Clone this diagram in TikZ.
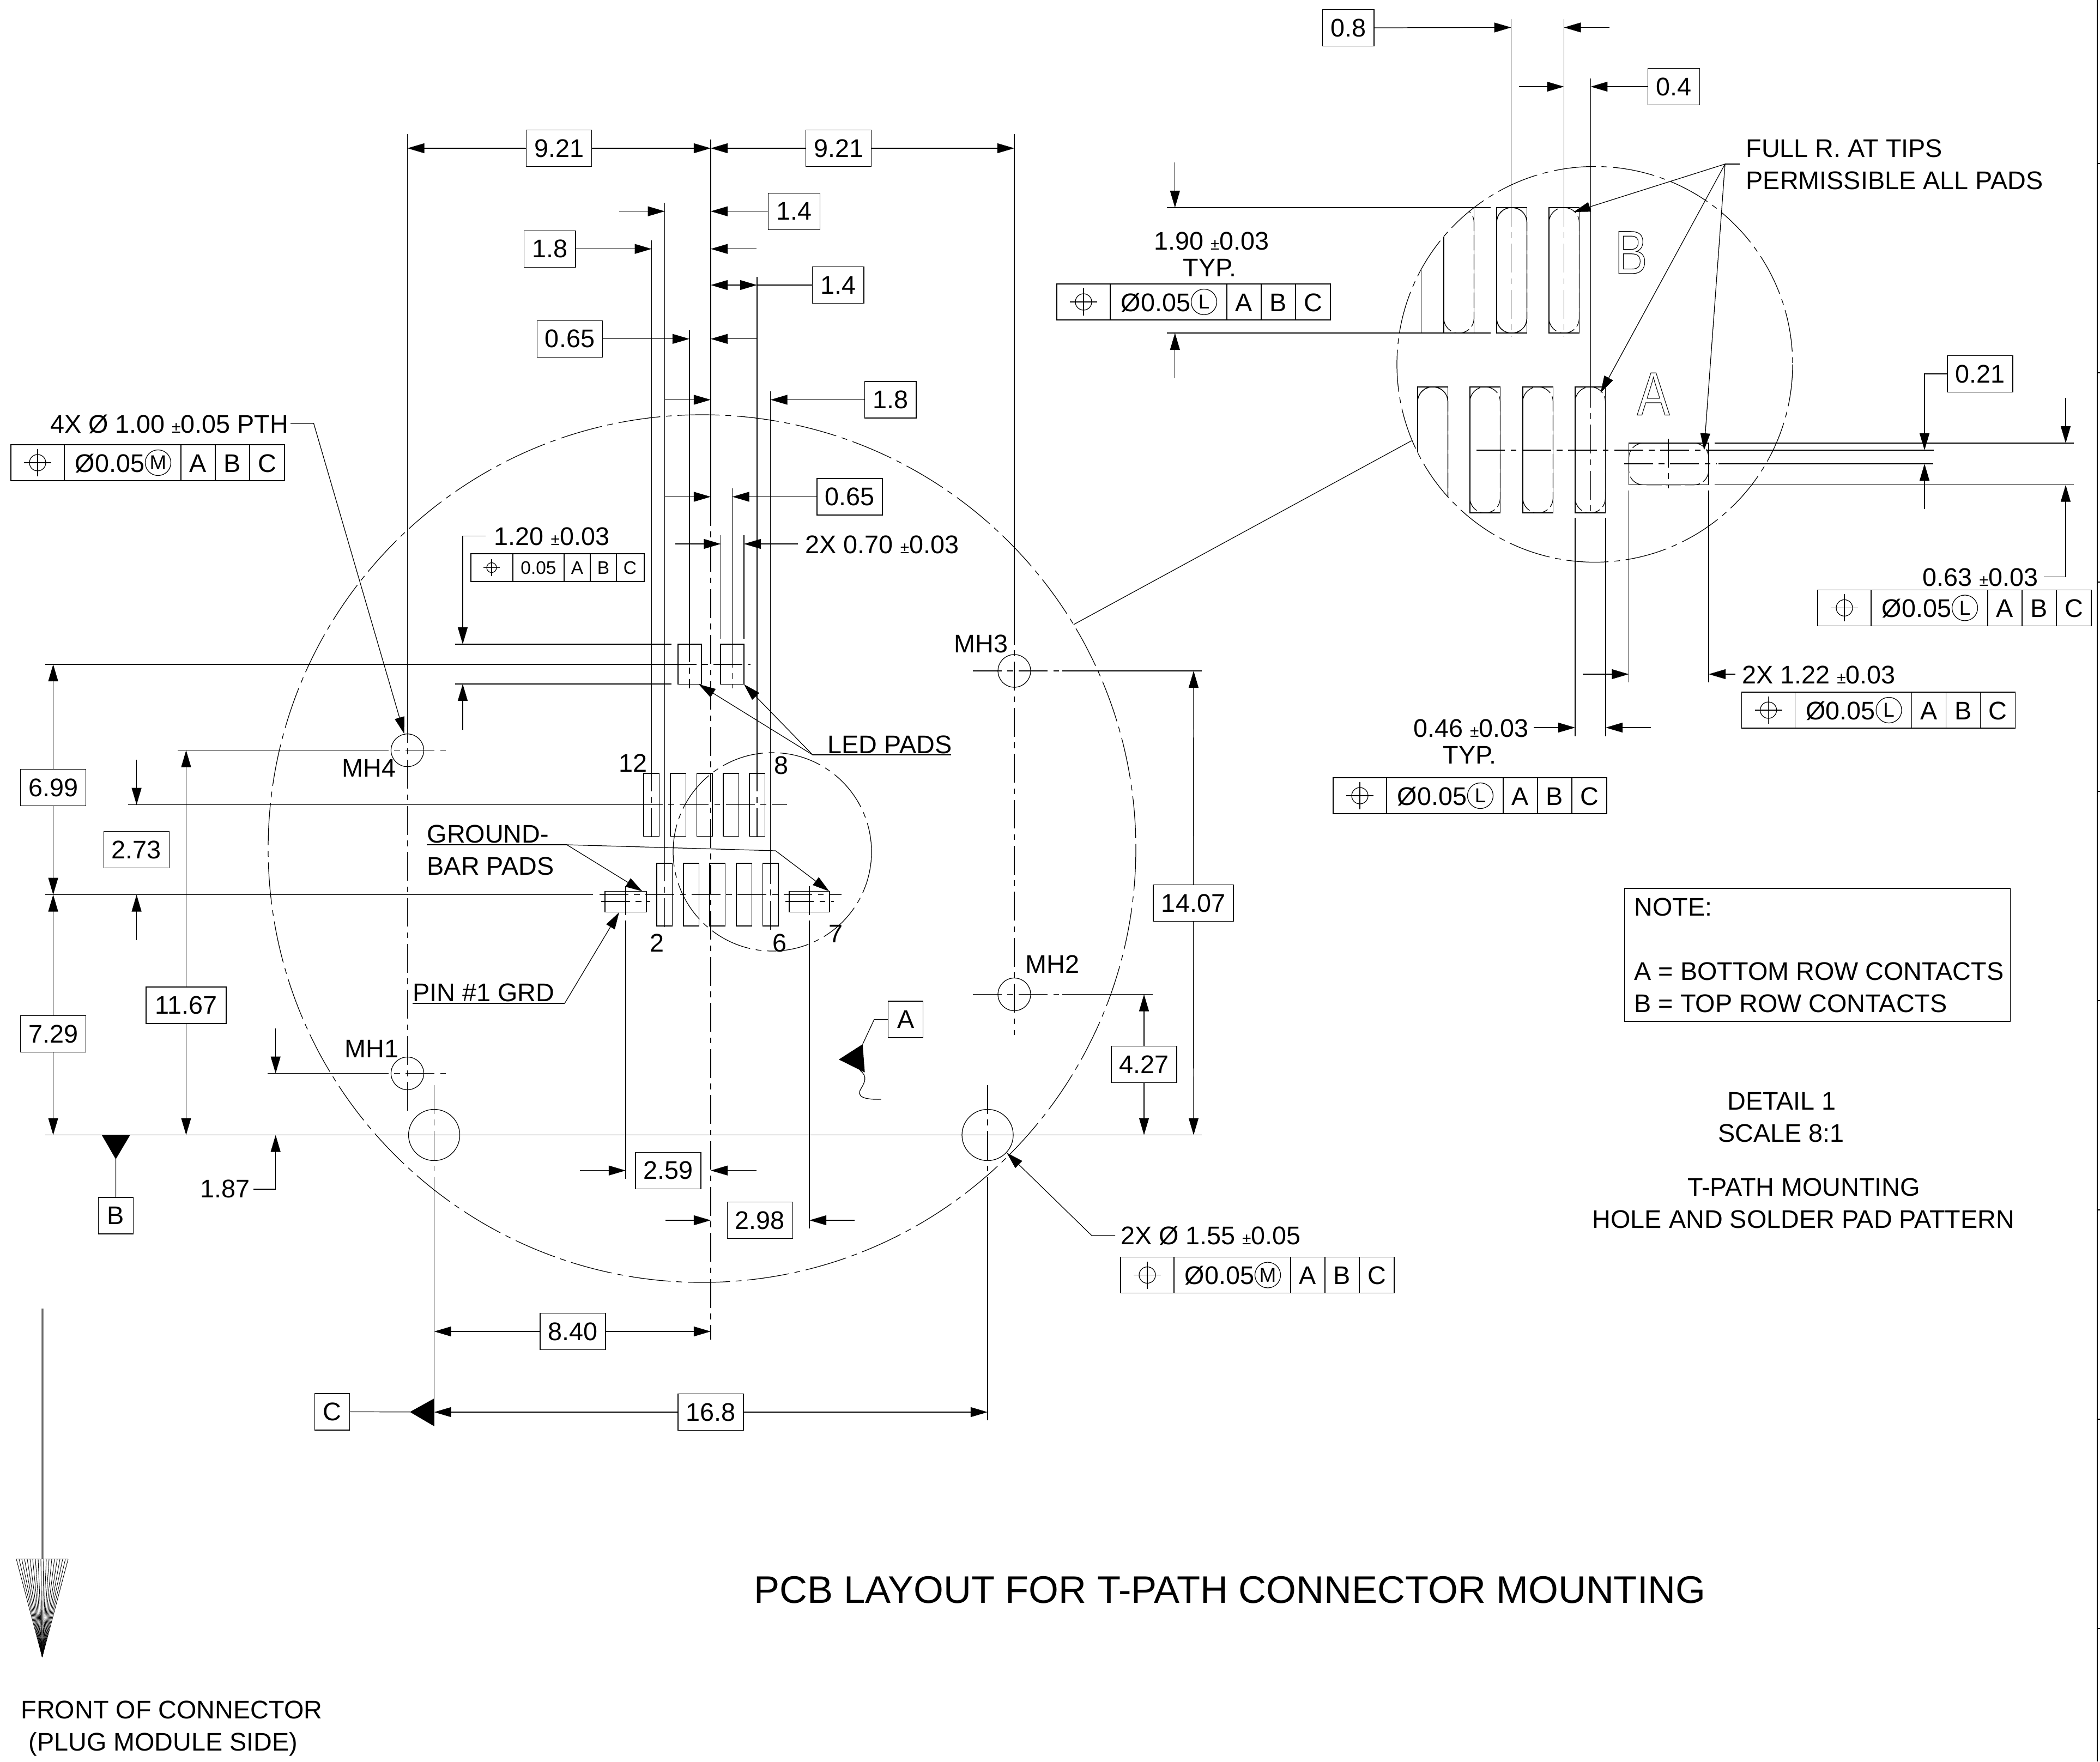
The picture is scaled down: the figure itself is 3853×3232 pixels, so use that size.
\documentclass[tikz,border=0pt]{standalone}
\usepackage{fontspec}
\setmainfont{Liberation Sans}
\usetikzlibrary{arrows.meta}

\newcommand{\pmsmall}{{\fontsize{8.5}{8.5}\selectfont ±}}
\newcommand{\hollow}[1]{\scalebox{0.8}[1]{\special{pdf:code 1 Tr 0.35 w}#1\special{pdf:code 0 Tr}}}

\newcommand{\posmark}[2]{
	\draw (#1,#2) circle [radius=15];
	\draw (#1-25,#2) -- (#1+25,#2);
	\draw (#1,#2-25) -- (#1,#2+25);
}

\newcommand{\fcfbox}[4]{
	\draw (#2,#3) rectangle (#2+502,#3+66);
	\foreach \cx in {98,312,375,438}
		\draw (#2+\cx,#3) -- (#2+\cx,#3+66);
	\posmark{#2+49}{#3+33}
	\node[txt] (#1v) at (#2+117,#3+50) {Ø0.05};
	\node[ring] (#1r) at (#2+270,#3+33) {#4};
	\node[txtc] (#1a) at (#2+343,#3+50) {A};
	\node[txtc] (#1b) at (#2+406,#3+50) {B};
	\node[txtc] (#1c) at (#2+470,#3+50) {C};
}

\begin{document}
\begin{tikzpicture}[x=0.01cm, y=-0.01cm, line width=0.35pt,
	font=\fontsize{13.3}{13.3}\selectfont,
	dim/.style={-{Triangle[length=0.31cm, width=0.18cm]}},
	dimb/.style={{Triangle[length=0.31cm, width=0.18cm]}-{Triangle[length=0.31cm, width=0.18cm]}},
	cl/.style={dash pattern=on 15pt off 3pt on 3pt off 3pt},
	clbig/.style={dash pattern=on 22pt off 3pt on 3pt off 3pt},
	phantom/.style={dash pattern=on 8pt off 2pt},
	dimbox/.style={draw, fill=white, inner sep=0pt, minimum width=1.2cm, minimum height=0.67cm},
	dimnar/.style={dimbox, minimum width=0.945cm},
	dimwid/.style={dimbox, minimum width=1.47cm},
	tagbox/.style={dimbox, minimum width=0.64cm},
	txt/.style={inner sep=0pt, anchor=base west},
	txtc/.style={inner sep=0pt, anchor=base},
	ring/.style={draw, circle, inner sep=0pt, minimum size=0.47cm, font=\fontsize{10.5}{10.5}\selectfont}]

	\useasboundingbox (0,0) rectangle (3853,3232);

	\coordinate (cl0) at (1304,256);
	\coordinate (cl1) at (1304,2458);
	\coordinate (big) at (1288,1557);
	\coordinate (small) at (1417,1563);
	\coordinate (det) at (2926,668.5);
	\coordinate (hole1) at (796.6,2082.5);
	\coordinate (hole2) at (1812,2082.5);
	\coordinate (mh1) at (747.5,1969.5);
	\coordinate (mh2) at (1861,1824.5);
	\coordinate (mh3) at (1861,1231);
	\coordinate (mh4) at (747.5,1376.7);

	\draw[clbig] (big) circle [radius=796];
	\draw[clbig] (small) circle [radius=182];
	\draw[clbig] (det) circle [radius=363];
	\draw (1969.8,1146) -- (2589.7,808.7);

	\draw (mh1) circle [radius=30];
	\draw (mh2) circle [radius=30];
	\draw (mh3) circle [radius=30];
	\draw (mh4) circle [radius=30];
	\draw (hole1) circle [radius=47];
	\draw (hole2) circle [radius=47];

	% pads
	\draw (1244,1182) rectangle (1287,1255.5);
	\draw (1322,1182) rectangle (1365,1255.5);
	\foreach \px in {1181,1230,1278.6,1327,1375}
		\draw (\px,1419) rectangle ++(28.5,115.5);
	\foreach \px in {1205,1254,1302,1351,1399.6}
		\draw (\px,1584) rectangle ++(28.5,115);
	\draw (1110,1635.4) rectangle (1186,1673.7);
	\draw (1448,1635.4) rectangle (1522,1673.7);

	% pads of the detail
	\begin{scope}
		\clip (det) circle [radius=363];
		\draw (2607.5,381) -- (2607.5,611);
		\foreach \px in {2649,2746,2842} {
			\draw (\px,381) rectangle ++(55.5,230);
			\draw[phantom, rounded corners=0.27cm] (\px,381) rectangle ++(55.5,230);
		}
		\draw[rounded corners=0.27cm] (2746,381) rectangle ++(55.5,230);
		\foreach \px in {2601,2697,2794,2890} {
			\draw (\px,710) rectangle ++(55.5,231);
			\draw[phantom, rounded corners=0.27cm] (\px,710) rectangle ++(55.5,231);
		}
		\draw[rounded corners=0.27cm] (2601,710) rectangle ++(55.5,231);
	\end{scope}
	\draw (2988.4,813) rectangle (3135,889.7);
	\draw[phantom, rounded corners=0.27cm] (2988.4,813) rectangle (3135,889.7);

	\node[txt, font=\fontsize{31.9}{31.9}\selectfont] (letb) at (2962,502) {\hollow{B}};
	\node[txt, font=\fontsize{31.9}{31.9}\selectfont] (leta) at (3003,761.5) {\hollow{A}};

	% vertical lines over the pads
	\draw (747.5,246) -- (747.5,1310);
	\draw[cl] (747.5,1310) -- (747.5,2045);
	\draw (1861,246) -- (1861,1130);
	\draw[cl] (1861,1130) -- (1861,1898.5);
	\draw (1195.6,441) -- (1195.6,1399);
	\draw[cl] (1195.6,1399) -- (1195.6,1540);
	\draw (1219.7,372) -- (1219.7,1564);
	\draw[cl] (1219.7,1564) -- (1219.7,1708);
	\draw (1265,606) -- (1265,1162);
	\draw[cl] (1265,1162) -- (1265,1263);
	\draw (cl0) -- (1304,912);
	\draw[cl] (1304,912) -- (cl1);
	\draw (1322.4,982) -- (1322.4,1172);
	\draw (1343.7,896) -- (1343.7,1172);
	\draw[cl] (1343.7,1172) -- (1343.7,1263);
	\draw (1365,982) -- (1365,1172);
	\draw (1389,508) -- (1389,1399);
	\draw[cl] (1389,1399) -- (1389,1540);
	\draw (1413.7,718) -- (1413.7,1569);
	\draw[cl] (1413.7,1569) -- (1413.7,1707);
	\draw[cl] (1148,1626) -- (1148,1693);
	\draw (1148,1693) -- (1148,2163);
	\draw[cl] (1485,1626) -- (1485,1693);
	\draw (1485,1693) -- (1485,2253.6);
	\draw[cl] (796.6,1991) -- (796.6,2173);
	\draw (796.6,2173) -- (796.6,2617);
	\draw[cl] (1812,1991) -- (1812,2185);
	\draw (1812,2185) -- (1812,2606);

	% horizontal lines
	\draw (835,1182) -- (1232,1182);
	\draw (835,1255) -- (1232,1255);
	\draw (83,1219) -- (1225,1219);
	\draw[cl] (1225,1219) -- (1377,1219);
	\draw (234.7,1476.6) -- (1163,1476.6);
	\draw[cl] (1163,1476.6) -- (1444,1476.6);
	\draw (83,1641.6) -- (1088,1641.6);
	\draw[cl] (1100,1641.6) -- (1544,1641.6);
	\draw[cl] (1103,1654) -- (1193,1654);
	\draw[cl] (1440.6,1654) -- (1530,1654);
	\draw (83,2082.5) -- (2205,2082.5);
	\draw (326,1376.7) -- (660,1376.7);
	\draw[cl] (660,1376.7) -- (824,1376.7);
	\draw (491,1969.5) -- (660,1969.5);
	\draw[cl] (660,1969.5) -- (824,1969.5);
	\draw[cl] (1785,1231) -- (1949,1231);
	\draw (1949,1231) -- (2205,1231);
	\draw[cl] (1785,1824.5) -- (1949,1824.5);
	\draw (1949,1824.5) -- (2114.5,1824.5);

	% lines of the detail
	\draw (2772.7,35) -- (2772.7,363);
	\draw[cl] (2772.7,363) -- (2772.7,618);
	\draw (2869.5,35) -- (2869.5,363);
	\draw[cl] (2869.5,363) -- (2869.5,618);
	\draw (2918.4,143.5) -- (2918.4,695);
	\draw[cl] (2918.4,695) -- (2918.4,947);
	\draw (2890,950) -- (2890,1351);
	\draw (2946,950) -- (2946,1351);
	\draw (2988.4,900) -- (2988.4,1252);
	\draw (3135,900) -- (3135,1252);
	\draw[cl] (3061,805) -- (3061,896);
	\draw (2141,381) -- (2735,381);
	\draw (2141,611) -- (2735,611);
	\draw[cl] (2708.6,826) -- (3140,826);
	\draw (3140,826) -- (3547.6,826);
	\draw[cl] (2980,851) -- (3150,851);
	\draw (3153.4,851) -- (3547.4,851);
	\draw (3145.7,813) -- (3805,813);
	\draw (3145.7,889.7) -- (3805,889.7);

	% boxed dimensions
	\node[dimbox] (d921l) at (1025.7,272) {9.21};
	\node[dimbox] (d921r) at (1538.5,272) {9.21};
	\node[dimnar] (d14a) at (1457,387.7) {1.4};
	\node[dimnar] (d18a) at (1008.7,456.7) {1.8};
	\node[dimnar] (d14b) at (1537.8,523) {1.4};
	\node[dimbox] (d065a) at (1045.5,621.8) {0.65};
	\node[dimnar] (d18b) at (1633.7,733.5) {1.8};
	\node[dimbox] (d065b) at (1559,911.5) {0.65};
	\node[dimbox] (d699) at (97.6,1445) {6.99};
	\node[dimbox] (d729) at (97.6,1897.3) {7.29};
	\node[dimbox] (d273) at (250.3,1559) {2.73};
	\node[dimwid] (d1167) at (341.5,1844.5) {11.67};
	\node[dimwid] (d1407) at (2189.5,1657) {14.07};
	\node[dimbox] (d427) at (2099,1953) {4.27};
	\node[dimbox] (d840) at (1051,2443) {8.40};
	\node[dimbox] (d168) at (1304,2591) {16.8};
	\node[dimbox] (d259) at (1226,2147.7) {2.59};
	\node[dimbox] (d298) at (1394.4,2239) {2.98};
	\node[dimnar] (d08) at (2473.6,51) {0.8};
	\node[dimnar] (d04) at (3071,159) {0.4};
	\node[dimbox] (d021) at (3633,686) {0.21};
	\node[tagbox] (tagb) at (212.5,2230.5) {B};
	\node[tagbox] (tagc) at (609.5,2590.5) {C};
	\node[tagbox] (taga) at (1661.8,1870.5) {A};

	\draw[dim] (d921l.west) -- (747.5,272);
	\draw[dim] (d921l.east) -- (1304,272);
	\draw[dim] (d921r.west) -- (1304,272);
	\draw[dim] (d921r.east) -- (1861,272);
	\draw[dim] (1136,387.7) -- (1219.7,387.7);
	\draw[dim] (d14a.west) -- (1304,387.7);
	\draw[dim] (d18a.east) -- (1195.6,456.7);
	\draw[dim] (1388,456.7) -- (1304,456.7);
	\draw[dimb] (1304,523) -- (1389,523);
	\draw (d14b.west) -- (1389,523);
	\draw[dim] (d065a.east) -- (1265,621.8);
	\draw[dim] (1388,621.8) -- (1304,621.8);
	\draw[dim] (1220,733.5) -- (1304,733.5);
	\draw[dim] (d18b.west) -- (1413.7,733.5);
	\draw[dim] (1220,911.5) -- (1304,911.5);
	\draw[dim] (d065b.west) -- (1343.7,911.5);
	\draw[dim] (1239,998) -- (1322.4,998);
	\draw[dim] (1464,998) -- (1365,998);

	\draw[dim] (d699.north) -- (97.6,1219);
	\draw[dim] (d699.south) -- (97.6,1641.6);
	\draw[dim] (d729.north) -- (97.6,1641.6);
	\draw[dim] (d729.south) -- (97.6,2082.5);
	\draw[dim] (250.6,1393.6) -- (250.6,1476.6);
	\draw[dim] (250.6,1724.5) -- (250.6,1641.6);
	\draw[dim] (d1167.north) -- (341.5,1376.7);
	\draw[dim] (d1167.south) -- (341.5,2082.5);
	\draw[dim] (505.7,1887) -- (505.7,1969.5);
	\draw[dim] (465,2182) -- (505.7,2182) -- (505.7,2082.5);
	\draw[dim] (891,983.6) -- (849,983.6) -- (849,1182);
	\draw[dim] (849,1338.5) -- (849,1255);
	\draw[dim] (d1407.north) -- (2190,1231);
	\draw[dim] (d1407.south) -- (2190,2082.5);
	\draw[dim] (d427.north) -- (2099,1824.5);
	\draw[dim] (d427.south) -- (2099,2082.5);

	\draw[dim] (d840.west) -- (796.6,2443);
	\draw[dim] (d840.east) -- (1304,2443);
	\draw[dim] (d168.west) -- (796.6,2591);
	\draw[dim] (d168.east) -- (1812,2591);
	\draw[dim] (1064,2147.7) -- (1148,2147.7);
	\draw[dim] (1388,2147.7) -- (1304,2147.7);
	\draw[dim] (1221,2239) -- (1304,2239);
	\draw[dim] (1568,2239) -- (1485,2239);

	\draw[dim] (d08.east) -- (2772.7,50.4);
	\draw[dim] (2953,50.4) -- (2869.5,50.4);
	\draw[dim] (2787,159) -- (2869.5,159);
	\draw[dim] (d04.west) -- (2918.4,159);
	\draw[dim] (2155.8,298) -- (2155.8,381);
	\draw[dim] (2155.8,694) -- (2155.8,611);
	\draw[dim] (d021.west) -- (3531,686) -- (3531,826);
	\draw[dim] (3531,934) -- (3531,851);
	\draw[dim] (3790,730) -- (3790,813);
	\draw[dim] (3750,1058.6) -- (3790,1058.6) -- (3790,889.7);
	\draw[dim] (2904,1237) -- (2988.4,1237);
	\draw[dim] (3184,1237) -- (3135,1237);
	\draw[dim] (2814,1335) -- (2890,1335);
	\draw[dim] (3029,1335) -- (2946,1335);

	% leaders
	\draw[dim] (533,776.7) -- (575.5,776.7) -- (741.7,1346.6);
	\draw[dim] (1491,1385) -- (1282,1255.5);
	\draw[dim] (1491,1385) -- (1365,1255.5);
	\draw (1491,1385) -- (1745,1385);
	\draw (783,1550) -- (1040,1550);
	\draw[dim] (1040,1550) -- (1178.6,1635.4);
	\draw[dim] (1040,1550) -- (1423,1561) -- (1521.4,1635.4);
	\draw (757,1841) -- (1036,1841);
	\draw[dim] (1036,1841) -- (1136,1674);
	\draw[dim] (2046,2267) -- (2003,2267) -- (1847,2115);
	\draw (3191.7,301) -- (3165,301);
	\draw[dim] (3165,301) -- (2887,389);
	\draw[dim] (3165,301) -- (2936.7,720.7);
	\draw[dim] (3165,301) -- (3126.5,826);

	% datums
	\fill (187,2083) -- (238.5,2083) -- (212.4,2127) -- cycle;
	\draw (212.4,2127) -- (tagb.north);
	\fill (796.8,2565.8) -- (796.8,2617) -- (752,2590.7) -- cycle;
	\draw (752,2590.7) -- (tagc.east);
	\fill (1582.7,1916) -- (1539,1944) -- (1586.7,1967.7) -- cycle;
	\draw (taga.west) -- (1604,1870.5) -- (1582.7,1916);
	\draw (1578,1964) .. controls (1592,1975) and (1587,1985) .. (1580,1997) .. controls (1570,2012) and (1585,2018) .. (1616.7,2017);

	% labels
	\node[txt] (lmh4) at (627,1425) {MH4};
	\node[txt] (lmh1) at (632,1940) {MH1};
	\node[txt] (lmh3) at (1749.7,1197) {MH3};
	\node[txt] (lmh2) at (1881,1785.6) {MH2};
	\node[txt] (p12) at (1135,1416) {12};
	\node[txt] (p8) at (1420,1420.6) {8};
	\node[txt] (p2) at (1192,1746) {2};
	\node[txt] (p6) at (1417,1746) {6};
	\node[txt] (p7) at (1520,1729) {7};
	\node[txt] (lled) at (1518,1382) {LED PADS};
	\node[txt] (lgnd1) at (783,1546) {GROUND-};
	\node[txt] (lgnd2) at (783,1605) {BAR PADS};
	\node[txt] (lpin) at (757,1837.5) {PIN \#1 GRD};
	\node[txt] (l187) at (367,2197.7) {1.87};
	\node[txt] (l120) at (906,1000) {1.20 \pmsmall0.03};
	\node[txt] (l070) at (1477,1015) {2X 0.70 \pmsmall0.03};
	\node[txt] (l100) at (92,794) {4X Ø\hspace{3.4pt}1.00 \pmsmall0.05 PTH};
	\node[txt] (l155) at (2056,2283.5) {2X Ø\hspace{3.4pt}1.55 \pmsmall0.05};
	\node[txt] (l190) at (2116.5,458) {1.90 \pmsmall0.03};
	\node[txt] (l190t) at (2170,507) {TYP.};
	\node[txt] (l063) at (3527,1075) {0.63 \pmsmall0.03};
	\node[txt] (l122) at (3195.6,1254) {2X 1.22 \pmsmall0.03};
	\node[txt] (l046) at (2592.5,1352.5) {0.46 \pmsmall0.03};
	\node[txt] (l046t) at (2647,1401.6) {TYP.};
	\node[txt] (lfull1) at (3203,288) {FULL R. AT TIPS};
	\node[txt] (lfull2) at (3203,347.6) {PERMISSIBLE ALL PADS};

	% control frames
	\fcfbox{fa}{20}{816}{M}
	\fcfbox{fb}{1939}{521}{L}
	\fcfbox{fc}{3335}{1082.4}{L}
	\fcfbox{fd}{3195.6}{1270}{L}
	\fcfbox{fe}{2446}{1427}{L}
	\fcfbox{ff}{2056}{2306.5}{M}

	\draw (864,1016) rectangle (1182,1067);
	\draw (941,1016) -- (941,1067);
	\draw (1035,1016) -- (1035,1067);
	\draw (1083,1016) -- (1083,1067);
	\draw (1131,1016) -- (1131,1067);
	\draw (902,1041.5) circle [radius=9];
	\draw (887,1041.5) -- (917,1041.5);
	\draw (902,1026) -- (902,1057);
	\begin{scope}[font=\fontsize{9.5}{9.5}\selectfont]
		\node[txtc] (fg) at (988,1053) {0.05};
		\node[txtc] (fga) at (1059,1053) {A};
		\node[txtc] (fgb) at (1107,1053) {B};
		\node[txtc] (fgc) at (1156,1053) {C};
	\end{scope}

	% notes
	\draw (2980.5,1630) rectangle (3688.5,1874);
	\node[txt] (nt0) at (2998,1680) {NOTE:};
	\node[txt] (nt1) at (2998,1798) {A = BOTTOM ROW CONTACTS};
	\node[txt] (nt2) at (2998,1857) {B = TOP ROW CONTACTS};
	\node[txtc] (ds1) at (3269,2036) {DETAIL 1};
	\node[txtc] (ds2) at (3268,2095.5) {SCALE 8:1};
	\node[txtc] (ds3) at (3309.6,2194.6) {T-PATH MOUNTING};
	\node[txtc] (ds4) at (3309,2253) {HOLE AND SOLDER PAD PATTERN};
	\node[txt, font=\fontsize{20.05}{20.05}\selectfont] (title) at (1383,2941) {PCB LAYOUT FOR T-PATH CONNECTOR MOUNTING};

	% front arrow
	\draw[line width=0.25pt] (75,2401) -- (75,2860.6);
	\draw[line width=0.25pt] (77.5,2401) -- (77.5,2860.6);
	\draw[line width=0.25pt] (80,2401) -- (80,2860.6);
	\draw (30,2860.6) -- (125,2860.6);
	\foreach \k in {0,...,19}
		\draw[line width=0.25pt] (30+\k*5,2860.6) -- (77.5,3040);
	\node[txt] (fr1) at (38,3153) {FRONT OF CONNECTOR};
	\node[txt] (fr2) at (52,3212.6) {(PLUG MODULE SIDE)};

	% sheet edge
	\draw (3848,0) -- (3848,3232);
	\foreach \ty in {300,684,1068,1452,1836,2220,2604,2988}
		\draw (3848,\ty) -- (3853,\ty);

\end{tikzpicture}
\end{document}
